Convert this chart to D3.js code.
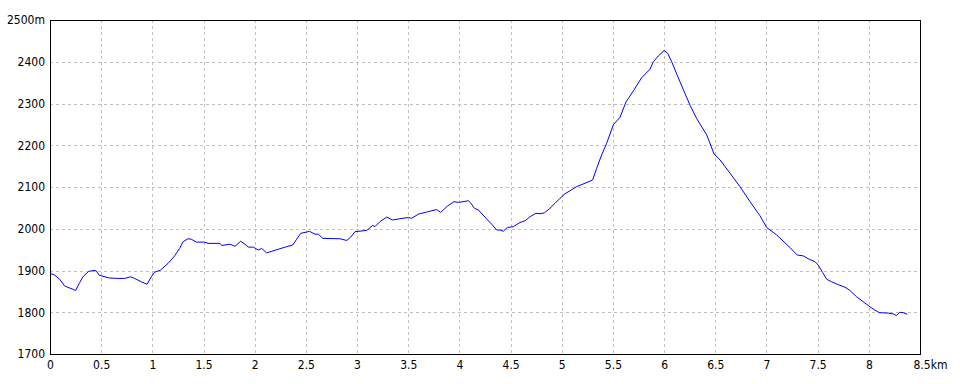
<!DOCTYPE html>
<html>
<head>
<meta charset="utf-8">
<script src="https://cdn.jsdelivr.net/npm/d3@7"></script>
<style>
  html, body { margin: 0; padding: 0; background: #fff; }
  svg { display: block; }
  text { font-family: "Liberation Sans Narrow", "DejaVu Sans Condensed", "Liberation Sans", sans-serif; font-size: 12px; fill: #000; }
</style>
</head>
<body>
<svg id="chart" width="960" height="384"></svg>
<script>
const distKm = [0, 0.046, 0.095, 0.143, 0.17, 0.215, 0.25, 0.29, 0.322, 0.378, 0.43, 0.452, 0.48, 0.518, 0.583, 0.664, 0.73, 0.788, 0.827, 0.892, 0.948, 0.99, 1.022, 1.08, 1.153, 1.218, 1.267, 1.3, 1.348, 1.38, 1.43, 1.51, 1.544, 1.661, 1.677, 1.759, 1.808, 1.863, 1.895, 1.938, 1.986, 2.035, 2.068, 2.117, 2.166, 2.231, 2.312, 2.371, 2.41, 2.449, 2.508, 2.534, 2.589, 2.622, 2.664, 2.833, 2.899, 2.938, 2.98, 3.094, 3.153, 3.175, 3.224, 3.29, 3.348, 3.42, 3.501, 3.534, 3.599, 3.68, 3.778, 3.817, 3.882, 3.947, 3.99, 4.087, 4.11, 4.146, 4.185, 4.26, 4.315, 4.364, 4.397, 4.429, 4.468, 4.527, 4.592, 4.641, 4.69, 4.748, 4.787, 4.83, 4.885, 4.934, 4.983, 5.032, 5.081, 5.146, 5.227, 5.302, 5.341, 5.39, 5.439, 5.504, 5.569, 5.628, 5.699, 5.781, 5.862, 5.895, 5.943, 6.002, 6.035, 6.074, 6.155, 6.253, 6.318, 6.416, 6.488, 6.546, 6.644, 6.741, 6.839, 6.937, 7.002, 7.1, 7.23, 7.301, 7.36, 7.409, 7.474, 7.506, 7.549, 7.588, 7.637, 7.702, 7.767, 7.816, 7.881, 7.946, 8.011, 8.06, 8.102, 8.19, 8.239, 8.271, 8.304, 8.337, 8.376];
const elevM = [1893, 1889, 1879, 1863, 1860, 1856, 1852, 1871, 1885, 1898, 1900, 1899, 1889, 1886, 1882, 1881, 1881, 1885, 1881, 1873, 1867, 1885, 1896, 1901, 1917, 1935, 1953, 1969, 1976, 1975, 1968, 1968, 1965, 1965, 1960, 1963, 1958, 1970, 1965, 1956, 1956, 1949, 1953, 1942, 1946, 1951, 1957, 1961, 1975, 1989, 1992, 1994, 1987, 1987, 1977, 1976, 1972, 1980, 1993, 1996, 2008, 2005, 2017, 2028, 2021, 2024, 2027, 2025, 2035, 2040, 2046, 2039, 2054, 2065, 2063, 2067, 2062, 2049, 2045, 2025, 2011, 1997, 1997, 1994, 2003, 2005, 2015, 2019, 2029, 2037, 2036, 2038, 2049, 2061, 2073, 2084, 2091, 2101, 2109, 2117, 2145, 2177, 2205, 2249, 2267, 2304, 2330, 2362, 2382, 2400, 2414, 2427, 2420, 2400, 2352, 2296, 2264, 2225, 2179, 2165, 2133, 2101, 2065, 2031, 2003, 1985, 1955, 1937, 1935, 1928, 1921, 1913, 1895, 1879, 1873, 1866, 1860, 1852, 1837, 1825, 1813, 1805, 1799, 1798, 1796, 1792, 1800, 1799, 1795];
const xTicks = [0, 0.5, 1, 1.5, 2, 2.5, 3, 3.5, 4, 4.5, 5, 5.5, 6, 6.5, 7, 7.5, 8, 8.5];
const yTicks = [1700, 1800, 1900, 2000, 2100, 2200, 2300, 2400, 2500];
const xUnit = "km";
const yUnit = "m";

const svg = d3.select("#chart");
const mLeft = 50, mRight = 920, mTop = 20, mBottom = 354;

const x = d3.scaleLinear().domain([0, 8.5]).range([mLeft, mRight]);
const y = d3.scaleLinear().domain([1700, 2500]).range([mBottom, mTop]);

// grid
const grid = svg.append("g").attr("stroke", "#c0c0c0").attr("stroke-dasharray", "3,3").attr("shape-rendering", "crispEdges");
grid.selectAll("line.v").data(xTicks.slice(1, -1)).join("line").attr("class", "v")
  .attr("x1", d => Math.round(x(d)) + 0.5).attr("x2", d => Math.round(x(d)) + 0.5)
  .attr("y1", mTop).attr("y2", mBottom);
grid.selectAll("line.h").data(yTicks.slice(1, -1)).join("line").attr("class", "h")
  .attr("y1", d => Math.round(y(d)) + 0.5).attr("y2", d => Math.round(y(d)) + 0.5)
  .attr("x1", mLeft).attr("x2", mRight);

// axes (labels only)
const xAxis = d3.axisBottom(x).tickValues(xTicks).tickSize(0).tickPadding(6)
  .tickFormat(d => String(d));
const gx = svg.append("g").attr("transform", `translate(0,${mBottom})`).call(xAxis);
gx.select(".domain").remove();
gx.selectAll(".tick").filter(d => d === 8.5).select("text")
  .attr("text-anchor", "start").attr("x", -7)
  .text(d => d + xUnit);

const yAxis = d3.axisLeft(y).tickValues(yTicks).tickSize(0).tickPadding(5)
  .tickFormat(d => d === 2500 ? d + yUnit : String(d));
const gy = svg.append("g").attr("transform", `translate(${mLeft},0)`).call(yAxis);
gy.select(".domain").remove();
svg.selectAll("g").attr("font-family", null).attr("font-size", null);
svg.selectAll(".tick text").attr("fill", "#000");

// frame
svg.append("rect").attr("x", mLeft + 0.5).attr("y", mTop + 0.5)
  .attr("width", mRight - mLeft).attr("height", mBottom - mTop)
  .attr("fill", "none").attr("stroke", "#000").attr("shape-rendering", "crispEdges");

// line
const data = distKm.map((d, i) => [d, elevM[i]]);
svg.append("path").datum(data)
  .attr("fill", "none").attr("stroke", "#0000ff").attr("stroke-width", 1)
  .attr("d", d3.line().x(d => x(d[0])).y(d => y(d[1])));
</script>
</body>
</html>
